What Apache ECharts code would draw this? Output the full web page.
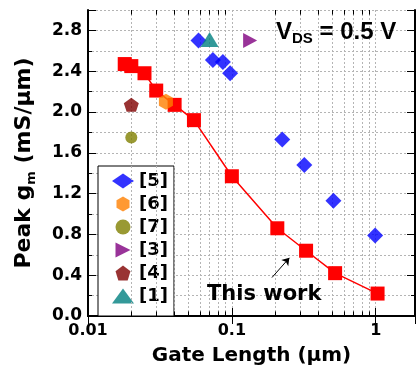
<!DOCTYPE html>
<html>
<head>
<meta charset="utf-8">
<script src="https://cdn.jsdelivr.net/npm/echarts@6/dist/echarts.min.js"></script>
<style>
  html, body { margin: 0; padding: 0; background: #fff; }
  #chart { width: 417px; height: 371px; }
</style>
</head>
<body>
<div id="chart"></div>
<script>
// gate length (um) and peak gm (mS/um)
const thisWorkL = [0.018, 0.020, 0.0247, 0.0298, 0.040, 0.0545, 0.100, 0.207, 0.328, 0.522, 1.03]
const thisWorkGm = [2.47, 2.45, 2.38, 2.21, 2.07, 1.92, 1.37, 0.86, 0.64, 0.42, 0.22]
const ref5L = [0.0586, 0.0738, 0.0866, 0.0973, 0.224, 0.319, 0.508, 0.99]
const ref5Gm = [2.70, 2.51, 2.49, 2.38, 1.73, 1.48, 1.13, 0.79]
const ref6L = [0.0348]
const ref6Gm = [2.10]
const ref7L = [0.020]
const ref7Gm = [1.75]
const ref3L = [0.134]
const ref3Gm = [2.70]
const ref4L = [0.020]
const ref4Gm = [2.07]
const ref1L = [0.070]
const ref1Gm = [2.71]

const xMin = 0.01
const xMax = 1.875
const yMin = 0
const yMax = 3
const xMinor = [0.02, 0.03, 0.04, 0.05, 0.06, 0.07, 0.08, 0.09, 0.2, 0.3, 0.4, 0.5, 0.6, 0.7, 0.8, 0.9]

const font = 'DejaVu Sans'
const pair = (xs, ys) => xs.map((x, i) => [x, ys[i]])

// minor log grid lines and minor ticks (top and bottom)
const minorLines = []
xMinor.forEach(v => {
  minorLines.push([
    { coord: [v, yMin], lineStyle: { color: '#b4b4b4', type: [2, 2], width: 1 } },
    { coord: [v, yMax] }
  ])
  minorLines.push([
    { coord: [v, yMin], lineStyle: { color: '#000', type: 'solid', width: 1 } },
    { coord: [v, yMin + 0.045] }
  ])
  minorLines.push([
    { coord: [v, yMax], lineStyle: { color: '#000', type: 'solid', width: 1 } },
    { coord: [v, yMax - 0.045] }
  ])
})

const chart = echarts.init(document.getElementById('chart'))

const axisCommon = {
  axisLine: { show: true, lineStyle: { color: '#000', width: 2 } },
  axisTick: { show: true, inside: true, length: 8, lineStyle: { color: '#000', width: 1 } }
}

const option = {
  animation: false,
  backgroundColor: '#fff',
  grid: { left: 88, top: 10, right: 2, bottom: 50 },
  legend: {
    orient: 'vertical',
    left: 98,
    top: 166,
    data: ['[5]', '[6]', '[7]', '[3]', '[4]', '[1]'],
    itemWidth: 22,
    itemHeight: 15,
    itemGap: 5,
    padding: [6, 6, 11, 14],
    borderColor: '#000',
    borderWidth: 1,
    backgroundColor: '#fff',
    selectedMode: false,
    textStyle: { fontFamily: font, fontWeight: 'bold', fontSize: 18, color: '#000', lineHeight: 18 }
  },
  xAxis: [
    {
      type: 'log',
      logBase: 10,
      min: xMin,
      max: xMax,
      position: 'bottom',
      ...axisCommon,
      splitLine: { show: true, lineStyle: { color: '#b4b4b4', type: [2, 2], width: 1 } },
      axisLabel: {
        margin: 7,
        fontFamily: font,
        fontWeight: 'bold',
        fontSize: 16,
        color: '#000',
        showMaxLabel: false,
        formatter: v => {
          const e = Math.log10(v)
          return Math.abs(e - Math.round(e)) < 1e-6 ? String(Math.pow(10, Math.round(e))) : ''
        }
      },
      name: 'Gate Length (\u03bcm)',
      nameLocation: 'middle',
      nameGap: 30,
      nameTextStyle: { fontFamily: font, fontWeight: 'bold', fontSize: 20, color: '#000' }
    },
    {
      type: 'log',
      logBase: 10,
      min: xMin,
      max: xMax,
      position: 'top',
      ...axisCommon,
      axisLabel: { show: false },
      splitLine: { show: false }
    }
  ],
  yAxis: [
    {
      type: 'value',
      min: yMin,
      max: yMax,
      interval: 0.4,
      position: 'left',
      ...axisCommon,
      minorTick: { show: true, splitNumber: 2, length: 4, lineStyle: { color: '#000', width: 1 } },
      splitLine: { show: true, lineStyle: { color: '#b4b4b4', type: [2, 2], width: 1 } },
      minorSplitLine: { show: true, lineStyle: { color: '#b4b4b4', type: [2, 2], width: 1 } },
      axisLabel: {
        margin: 6,
        fontFamily: font,
        fontWeight: 'bold',
        fontSize: 17,
        color: '#000',
        showMaxLabel: false,
        formatter: v => v.toFixed(1)
      },
      name: '{a|Peak g}{s|m}{a| (mS/\u03bcm)}',
      nameLocation: 'middle',
      nameGap: 50,
      nameTextStyle: {
        rich: {
          a: { fontFamily: font, fontWeight: 'bold', fontSize: 22, color: '#000', lineHeight: 28 },
          s: { fontFamily: font, fontWeight: 'bold', fontSize: 13, color: '#000', lineHeight: 13, verticalAlign: 'bottom' }
        }
      }
    },
    {
      type: 'value',
      min: yMin,
      max: yMax,
      interval: 0.4,
      position: 'right',
      ...axisCommon,
      minorTick: { show: true, splitNumber: 2, length: 4, lineStyle: { color: '#000', width: 1 } },
      axisLabel: { show: false },
      splitLine: { show: false }
    }
  ],
  graphic: [
    {
      type: 'text',
      x: 276,
      y: 32,
      z: 100,
      style: {
        text: '{v|V}{s|DS}{v| = 0.5 V}',
        verticalAlign: 'middle',
        rich: {
          v: { fontFamily: 'Liberation Sans', fontWeight: 'bold', fontSize: 24, fill: '#000', lineHeight: 28 },
          s: { fontFamily: 'Liberation Sans', fontWeight: 'bold', fontSize: 15, fill: '#000', lineHeight: 14, verticalAlign: 'bottom' }
        }
      }
    },
    {
      type: 'text',
      x: 207,
      y: 295,
      z: 100,
      style: {
        text: 'This work',
        fontFamily: font,
        fontWeight: 'bold',
        fontSize: 21,
        fill: '#000',
        verticalAlign: 'middle'
      }
    }
  ],
  series: [
    {
      name: 'grid',
      type: 'line',
      data: [],
      z: 1,
      silent: true,
      markLine: {
        silent: true,
        symbol: ['none', 'none'],
        label: { show: false },
        data: minorLines
      }
    },
    {
      name: 'arrow',
      type: 'line',
      data: [],
      z: 5,
      silent: true,
      markLine: {
        silent: true,
        symbol: ['none', 'arrow'],
        symbolSize: 7,
        label: { show: false },
        lineStyle: { color: '#000', type: 'solid', width: 1 },
        data: [[{ coord: [0.19, 0.377] }, { coord: [0.251, 0.57] }]]
      }
    },
    {
      name: 'This work',
      type: 'line',
      z: 10,
      data: pair(thisWorkL, thisWorkGm),
      symbol: 'rect',
      symbolSize: 14,
      itemStyle: { color: '#ff0000' },
      lineStyle: { color: '#ff0000', width: 1.5 }
    },
    {
      name: '[5]',
      type: 'scatter',
      z: 10,
      data: pair(ref5L, ref5Gm),
      symbol: 'diamond',
      symbolSize: 16,
      itemStyle: { color: '#0000ff' }
    },
    {
      name: '[6]',
      type: 'scatter',
      z: 10,
      data: pair(ref6L, ref6Gm),
      symbol: 'path://M5,0 L9.33,2.5 L9.33,7.5 L5,10 L0.67,7.5 L0.67,2.5 Z',
      symbolSize: [14, 16],
      itemStyle: { color: '#ff8000' }
    },
    {
      name: '[7]',
      type: 'scatter',
      z: 10,
      data: pair(ref7L, ref7Gm),
      symbol: 'circle',
      symbolSize: 12,
      itemStyle: { color: '#808000' }
    },
    {
      name: '[3]',
      type: 'scatter',
      z: 10,
      data: pair(ref3L, ref3Gm),
      symbol: 'path://M0,0 L10,5 L0,10 Z',
      symbolSize: [14, 15],
      itemStyle: { color: '#800080' }
    },
    {
      name: '[4]',
      type: 'scatter',
      z: 10,
      data: pair(ref4L, ref4Gm),
      symbol: 'path://M5,0 L10,3.8 L8.1,10 L1.9,10 L0,3.8 Z',
      symbolSize: [15, 14],
      itemStyle: { color: '#800000' }
    },
    {
      name: '[1]',
      type: 'scatter',
      z: 11,
      data: pair(ref1L, ref1Gm),
      symbol: 'triangle',
      symbolSize: [18, 15],
      itemStyle: { color: '#008080' }
    }
  ]
}

chart.setOption(option)
</script>
</body>
</html>
